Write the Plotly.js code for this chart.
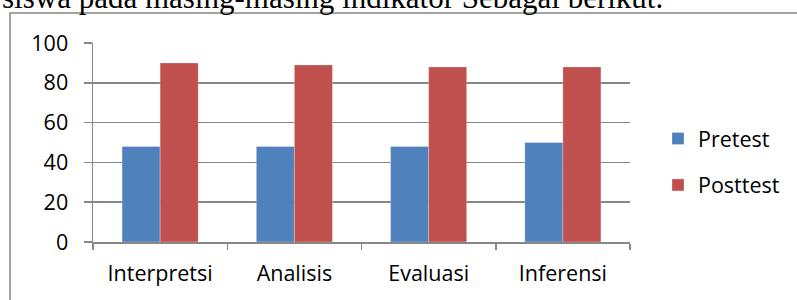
<!DOCTYPE html>
<html>
<head>
<meta charset="utf-8">
<script src="https://cdn.plot.ly/plotly-3.0.1.min.js"></script>
<style>
html,body{margin:0;padding:0;background:#fff;}
#chart{width:797px;height:300px;}
</style>
</head>
<body>
<div id="chart"></div>
<script>
const categories = ["Interpretsi", "Analisis", "Evaluasi", "Inferensi"];
const pretest = [48, 48, 48, 50];
const posttest = [90, 89, 88, 88];
const seriesNames = ["Pretest", "Posttest"];
const yTicks = [0, 20, 40, 60, 80, 100];
const headingText = "siswa pada masing-masing indikator Sebagai berikut.";

const FONT = "'Open Sans', Lato, sans-serif";
const FS = 21.5;
const GRID = "#878787";

const traces = [
  {type: "bar", name: seriesNames[0], x: categories, y: pretest, legendgroup: "a",
   marker: {color: "#4F81BD", line: {color: "rgba(255,255,255,0.35)", width: 0.8}}, hoverinfo: "none"},
  {type: "bar", name: seriesNames[1], x: categories, y: posttest, legendgroup: "b",
   marker: {color: "#C0504D", line: {color: "rgba(255,255,255,0.35)", width: 0.8}}, hoverinfo: "none"}
];

const L = 93, R = 167, T = 43, B = 58;
const pw = 797 - L - R, ph = 300 - T - B;
const px2x = p => (p - L) / pw;
const py2y = p => 1 - (p - T) / ph;

const layout = {
  width: 797, height: 300,
  margin: {l: L, r: R, t: T, b: B, pad: 0},
  paper_bgcolor: "#fff", plot_bgcolor: "#fff",
  font: {family: FONT, size: FS, color: "#000"},
  barmode: "group", bargap: 0.433, bargroupgap: 0,
  showlegend: true,
  legend: {x: px2x(658), xanchor: "left", y: py2y(118), yanchor: "top",
           traceorder: "grouped", tracegroupgap: 15.5,
           font: {family: FONT, size: FS, color: "#000"}, bgcolor: "rgba(0,0,0,0)"},
  xaxis: {type: "category", tickson: "boundaries", ticks: "outside", ticklen: 6, tickwidth: 1.5,
          tickcolor: GRID, showline: true, linecolor: GRID, linewidth: 1.5, showgrid: false,
          ticklabelstandoff: 12, tickfont: {family: FONT, size: FS, color: "#000"}, fixedrange: true},
  yaxis: {range: [0, 100], tickvals: yTicks, ticktext: yTicks.map(String), ticks: "outside", ticklen: 8,
          tickwidth: 1.5, tickcolor: GRID, showline: true, linecolor: GRID, linewidth: 1.5,
          showgrid: true, gridcolor: GRID, gridwidth: 1.5, zeroline: false,
          ticklabelstandoff: 11, tickfont: {family: FONT, size: FS, color: "#000"}, fixedrange: true},
  shapes: [{type: "rect", xref: "paper", yref: "paper",
            x0: px2x(10), x1: px2x(805), y0: py2y(310), y1: py2y(13),
            line: {color: GRID, width: 1.5}, fillcolor: "rgba(0,0,0,0)", layer: "below"}],
  annotations: [{text: headingText, xref: "paper", yref: "paper", x: px2x(0), xanchor: "left",
                 y: 1, yanchor: "bottom", yshift: 26, showarrow: false,
                 font: {family: "'Liberation Serif', 'Times New Roman', serif", size: 31, color: "#000"}}]
};

Plotly.newPlot("chart", traces, layout, {staticPlot: true, displayModeBar: false});
</script>
</body>
</html>
